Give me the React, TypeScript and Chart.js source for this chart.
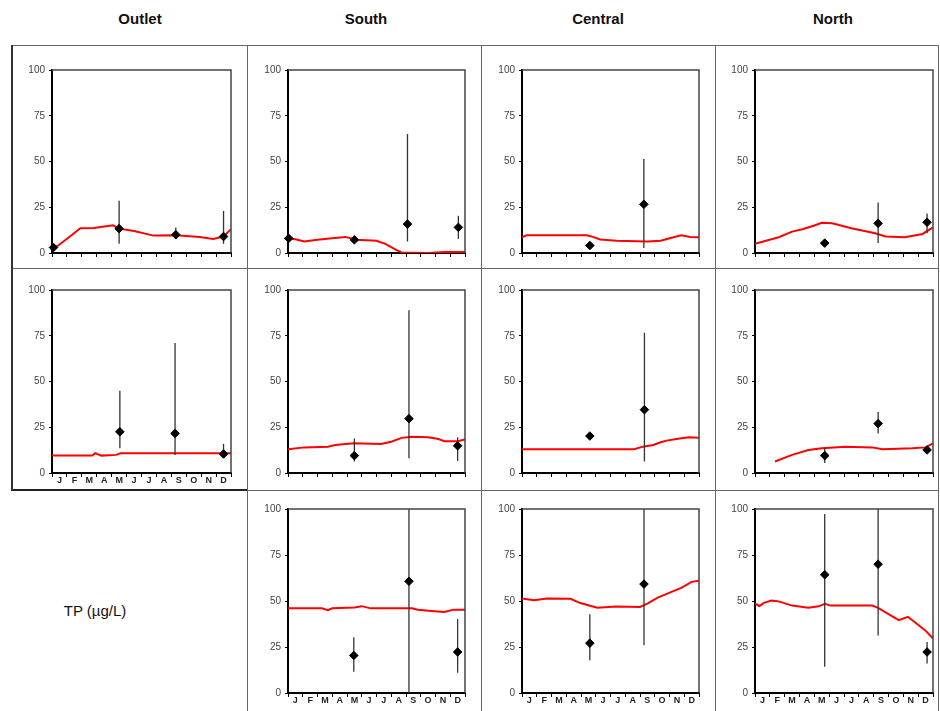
import React, { useEffect, useRef } from 'react';
import { Chart, registerables } from 'chart.js';

Chart.register(...registerables);

// ---------- data ----------
const monthLetters = ['J', 'F', 'M', 'A', 'M', 'J', 'J', 'A', 'S', 'O', 'N', 'D'];
const yTickValues = [0, 25, 50, 75, 100];
const columnTitles = ['Outlet', 'South', 'Central', 'North'];
const unitLabel = 'TP (µg/L)';

// model lines: [month, value]
const outletR1Model = [[0, 2.5], [0.4, 4], [1.2, 9], [1.9, 13.5], [2.8, 13.6], [3.5, 14.5], [4.1, 15.1], [4.5, 13.3], [5.5, 12], [6.8, 9.5], [8.3, 9.7], [9.9, 8.8], [10.8, 7.7], [11.5, 9], [12, 13]];
const southR1Model = [[0, 8], [0.5, 7.5], [1.1, 6.3], [2.0, 7.2], [3, 8], [3.9, 8.8], [4.6, 7.2], [6, 6.7], [6.6, 5], [7.3, 1.8], [7.7, 0.3], [9.5, 0], [10.6, 0.5], [12, 0.5]];
const centralR1Model = [[0, 8.6], [0.3, 9.7], [4.4, 9.7], [4.8, 8.8], [5.3, 7.4], [6.4, 6.7], [8.5, 6.3], [9.4, 6.7], [10.2, 8.5], [10.8, 9.7], [11.4, 8.8], [12, 8.6]];
const northR1Model = [[0, 5], [0.8, 6.8], [1.6, 8.6], [2.5, 11.7], [3.2, 13], [4.0, 15], [4.5, 16.5], [5.2, 16.2], [6.5, 13.5], [8.1, 10.8], [8.8, 9], [10.1, 8.6], [11.3, 10.4], [12, 14]];
const outletR2Model = [[0, 9.5], [2.7, 9.5], [2.9, 10.8], [3.1, 10.2], [3.3, 9.5], [4.3, 9.9], [4.6, 10.8], [12, 10.8]];
const southR2Model = [[0, 13], [1.1, 14], [2.7, 14.4], [3.2, 15.3], [3.9, 15.9], [4.5, 16.2], [6.3, 15.9], [7.0, 17.1], [7.7, 19.2], [8.4, 19.8], [9.5, 19.5], [10.2, 18.6], [10.6, 17.4], [11.5, 17.4], [12, 18.3]];
const centralR2Model = [[0, 13], [7.6, 13], [8.2, 14.4], [8.9, 15.3], [9.4, 16.8], [9.8, 17.7], [10.7, 18.9], [11.3, 19.5], [12, 19.2]];
const northR2Model = [[1.35, 6.3], [2.5, 9.9], [3.6, 12.6], [4.5, 13.5], [6.1, 14.4], [7.9, 14], [8.6, 13], [10.6, 13.5], [11.5, 14], [12, 16.2]];
const southR3Model = [[0, 46], [2.3, 46], [2.7, 45], [3.0, 46], [4.5, 46.5], [5.0, 47.2], [5.6, 46], [8.4, 46], [8.8, 45.3], [9.7, 44.6], [10.6, 44], [11.2, 45.3], [12, 45.3]];
const centralR3Model = [[0, 51.4], [0.8, 50.4], [1.7, 51.4], [3.3, 51.2], [3.9, 49], [5.1, 46.4], [6.4, 47], [8, 46.8], [8.5, 48.6], [9.2, 51.8], [10.1, 54.8], [10.8, 57.1], [11.5, 60.4], [12, 61]];
const northR3Model = [[0, 48.5], [0.3, 47.3], [0.6, 49], [1.1, 50.2], [1.6, 49.8], [2.5, 47.5], [3.6, 46.3], [4.3, 47.1], [4.7, 48.5], [5.1, 47.5], [7.9, 47.5], [8.3, 46.3], [9.2, 41.9], [9.7, 39.6], [10.3, 41.4], [10.8, 38.3], [11.5, 33.9], [12, 29.6]];

// observations: [month, mean, low, high]
const outletR1Obs = [[0.1, 3, 3, 3], [4.5, 13.3, 5, 28.6], [8.3, 10, 8, 14], [11.5, 9, 5, 23]];
const southR1Obs = [[0.05, 8, 8, 8], [4.5, 7.2, 7.2, 7.2], [8.1, 15.8, 6.3, 65], [11.55, 14, 7.7, 20.3]];
const centralR1Obs = [[4.6, 4.1, 4.1, 4.1], [8.26, 26.6, 2.7, 51.3]];
const northR1Obs = [[4.7, 5.4, 5.4, 5.4], [8.3, 16.2, 5.4, 27.6], [11.6, 16.8, 10.8, 21.6]];
const outletR2Obs = [[4.55, 22.5, 13.5, 45], [8.25, 21.6, 9.9, 71], [11.5, 10.4, 8.6, 15.9]];
const southR2Obs = [[4.5, 9.5, 6.3, 18.9], [8.2, 29.7, 8.1, 89], [11.5, 14.9, 6.6, 19.5]];
const centralR2Obs = [[4.6, 20.2, 20.2, 20.2], [8.3, 34.6, 6.3, 76.6]];
const northR2Obs = [[4.7, 9.5, 5.4, 13.5], [8.3, 27, 21.6, 33.3], [11.6, 12.6, 11, 14.5]];
const southR3Obs = [[4.46, 20.4, 11.6, 30.3], [8.2, 60.7, 0, 100], [11.5, 22.3, 11, 40.2]];
const centralR3Obs = [[4.6, 27.1, 17.8, 42.8], [8.27, 59.2, 25.9, 100]];
const northR3Obs = [[4.7, 64.3, 14.3, 97.3], [8.3, 70, 31.2, 100], [11.6, 22.3, 16.1, 27.7]];

// ---------- layout ----------
const colLeft = [52, 288, 522, 755];
const colRight = [231, 465, 699, 933];
const rowTop = [68, 288, 507];
const rowBottom = [253, 473, 693];
const titleCenters = [140, 366, 598, 833];

const panels = [
  { model: outletR1Model, obs: outletR1Obs, col: 0, row: 0, months: false },
  { model: southR1Model, obs: southR1Obs, col: 1, row: 0, months: false },
  { model: centralR1Model, obs: centralR1Obs, col: 2, row: 0, months: false },
  { model: northR1Model, obs: northR1Obs, col: 3, row: 0, months: false },
  { model: outletR2Model, obs: outletR2Obs, col: 0, row: 1, months: true },
  { model: southR2Model, obs: southR2Obs, col: 1, row: 1, months: false },
  { model: centralR2Model, obs: centralR2Obs, col: 2, row: 1, months: false },
  { model: northR2Model, obs: northR2Obs, col: 3, row: 1, months: false },
  { model: southR3Model, obs: southR3Obs, col: 1, row: 2, months: true },
  { model: centralR3Model, obs: centralR3Obs, col: 2, row: 2, months: true },
  { model: northR3Model, obs: northR3Obs, col: 3, row: 2, months: true },
];

const FONT = '"Liberation Sans", Arial, Helvetica, sans-serif';
const PAD_L = 36;
const PAD_T = 8;
const PAD_R = 6;
const AXIS_H = 16;

const framePlugin = {
  id: 'frame',
  afterDraw(chart: any) {
    const { ctx, chartArea } = chart;
    ctx.save();
    ctx.strokeStyle = '#444';
    ctx.lineWidth = 1.5;
    ctx.beginPath();
    ctx.moveTo(chartArea.left, chartArea.top);
    ctx.lineTo(chartArea.right, chartArea.top);
    ctx.lineTo(chartArea.right, chartArea.bottom);
    ctx.stroke();
    ctx.restore();
  },
};

function Panel({ model, obs, left, top, right, bottom, months }: any) {
  const ref = useRef<HTMLCanvasElement>(null);
  const w = right - left + PAD_L + PAD_R;
  const h = bottom - top + PAD_T + AXIS_H;

  useEffect(() => {
    const datasets: any[] = [];
    datasets.push({
      type: 'line',
      data: model.map((p: number[]) => ({ x: p[0], y: p[1] })),
      borderColor: '#ff0000',
      borderWidth: 2,
      pointRadius: 0,
      tension: 0,
      showLine: true,
      order: 3,
    });
    obs.forEach((o: number[]) => {
      if (o[3] > o[2]) {
        datasets.push({
          type: 'line',
          data: [{ x: o[0], y: o[2] }, { x: o[0], y: o[3] }],
          borderColor: '#333',
          borderWidth: 1.3,
          pointRadius: 0,
          showLine: true,
          order: 2,
        });
      }
    });
    datasets.push({
      type: 'scatter',
      data: obs.map((o: number[]) => ({ x: o[0], y: o[1] })),
      pointStyle: 'rectRot',
      pointRadius: 4.3,
      backgroundColor: '#000',
      borderColor: '#000',
      borderWidth: 1,
      clip: false,
      order: 1,
    });

    const halfTicks: number[] = [];
    for (let i = 0; i <= 24; i++) halfTicks.push(i / 2);

    const chart = new Chart(ref.current as HTMLCanvasElement, {
      type: 'scatter',
      data: { datasets },
      options: {
        animation: false,
        responsive: false,
        events: [],
        layout: { padding: { left: 0, top: PAD_T, right: PAD_R, bottom: 0 } },
        plugins: { legend: { display: false }, tooltip: { enabled: false } },
        scales: {
          x: {
            type: 'linear',
            min: 0,
            max: 12,
            afterBuildTicks: (s: any) => {
              s.ticks = halfTicks.map((v) => ({ value: v }));
            },
            afterFit: (s: any) => {
              s.height = AXIS_H;
            },
            ticks: {
              autoSkip: false,
              maxRotation: 0,
              minRotation: 0,
              padding: -2,
              color: '#222',
              font: { family: FONT, size: 9, weight: 'bold' },
              callback: (v: any) => {
                const i = Number(v) - 0.5;
                if (months && Number.isInteger(i)) return monthLetters[i];
                return '';
              },
            },
            grid: {
              drawOnChartArea: false,
              drawTicks: true,
              tickLength: 4,
              tickWidth: 1,
              color: (c: any) => (c.tick && c.tick.value % 1 === 0 ? '#000' : 'rgba(0,0,0,0)'),
              tickColor: (c: any) => (c.tick && c.tick.value % 1 === 0 ? '#000' : 'rgba(0,0,0,0)'),
            },
            border: { display: true, color: '#000', width: 2 },
          },
          y: {
            type: 'linear',
            min: 0,
            max: 100,
            afterBuildTicks: (s: any) => {
              s.ticks = yTickValues.map((v) => ({ value: v }));
            },
            afterFit: (s: any) => {
              s.width = PAD_L;
            },
            ticks: {
              padding: 4,
              color: '#444',
              font: { family: FONT, size: 10 },
            },
            grid: {
              drawOnChartArea: false,
              tickLength: 3,
              color: '#000',
              tickColor: '#000',
            },
            border: { display: true, color: '#000', width: 2 },
          },
        },
      } as any,
      plugins: [framePlugin],
    });
    return () => chart.destroy();
  }, []);

  return (
    <canvas
      ref={ref}
      width={w}
      height={h}
      style={{ position: 'absolute', left: left - PAD_L, top: top - PAD_T, width: w, height: h }}
    />
  );
}

function Line({ x, y, w, h, color = '#666' }: any) {
  return <div style={{ position: 'absolute', left: x, top: y, width: w, height: h, background: color }} />;
}

export default function App() {
  return (
    <div style={{ position: 'absolute', left: 0, top: 0, width: 940, height: 711, background: '#fff', overflow: 'hidden', fontFamily: FONT }}>
      {columnTitles.map((t, i) => (
        <div
          key={t}
          style={{ position: 'absolute', left: titleCenters[i] - 60, width: 120, top: 10, textAlign: 'center', fontWeight: 'bold', fontSize: 15, color: '#111' }}
        >
          {t}
        </div>
      ))}
      {/* cell grid lines */}
      <Line x={12} y={45} w={926} h={1} />
      <Line x={12} y={268} w={926} h={1} />
      <Line x={12} y={490} w={926} h={1} />
      <Line x={12} y={489} w={235} h={2} color="#222" />
      <Line x={11} y={45} w={2} h={446} color="#333" />
      <Line x={247} y={45} w={1} h={666} />
      <Line x={481} y={45} w={1} h={666} />
      <Line x={715} y={45} w={1} h={666} />
      <Line x={938} y={45} w={1} h={666} />
      <div style={{ position: 'absolute', left: 20, width: 150, top: 602, textAlign: 'center', fontSize: 15, color: '#111' }}>{unitLabel}</div>
      {panels.map((p, i) => (
        <Panel
          key={i}
          model={p.model}
          obs={p.obs}
          months={p.months}
          left={colLeft[p.col]}
          right={colRight[p.col]}
          top={rowTop[p.row]}
          bottom={rowBottom[p.row]}
        />
      ))}
    </div>
  );
}
